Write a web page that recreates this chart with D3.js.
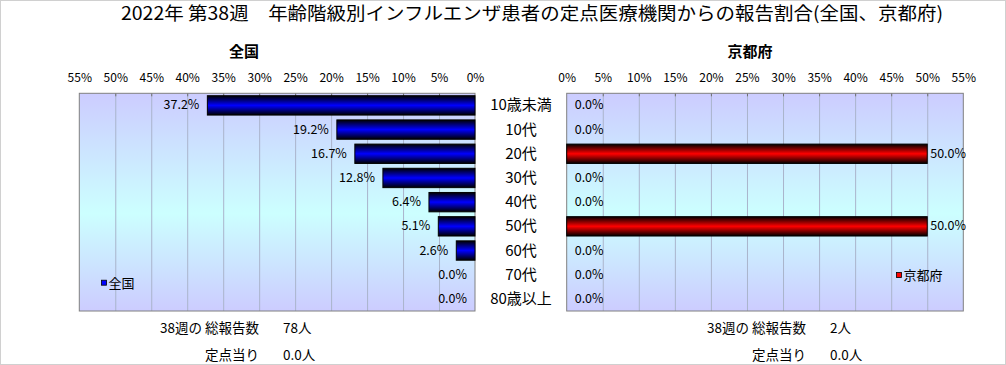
<!DOCTYPE html>
<html>
<head>
<meta charset="utf-8">
<script src="https://cdn.jsdelivr.net/npm/d3@7"></script>
<style>
  body { margin: 0; background: #fff; }
  svg { display: block; font-family: "Noto Sans CJK JP", "Noto Sans", sans-serif; }
</style>
</head>
<body>
<svg id="chart" width="1006" height="365"></svg>
<script>
// DATA
const ageGroups = ["10歳未満", "10代", "20代", "30代", "40代", "50代", "60代", "70代", "80歳以上"];
const zenkoku = [37.2, 19.2, 16.7, 12.8, 6.4, 5.1, 2.6, 0.0, 0.0];   // 全国 (%)
const kyoto = [0.0, 0.0, 50.0, 0.0, 0.0, 50.0, 0.0, 0.0, 0.0];       // 京都府 (%)
const tickValues = [0, 5, 10, 15, 20, 25, 30, 35, 40, 45, 50, 55];
const footZenkoku = [["38週の 総報告数", "78人"], ["定点当り", "0.0人"]];
const footKyoto = [["38週の 総報告数", "2人"], ["定点当り", "0.0人"]];

const svg = d3.select("#chart");
const plotTop = 93.3, plotBottom = 311;

// outer frame
svg.append("rect")
  .attr("x", 0.5).attr("y", 0.5).attr("width", 1005).attr("height", 364)
  .attr("fill", "none").attr("stroke", "#d0d0d0");

// gradients
const defs = svg.append("defs");
const bg = defs.append("linearGradient").attr("id", "bg").attr("x1", 0).attr("x2", 0).attr("y1", 0).attr("y2", 1);
bg.append("stop").attr("offset", "0%").attr("stop-color", "#ccccff");
bg.append("stop").attr("offset", "55%").attr("stop-color", "#ccffff");
bg.append("stop").attr("offset", "100%").attr("stop-color", "#ccccff");

function barGrad(id, mid) {
  const g = defs.append("linearGradient").attr("id", id).attr("x1", 0).attr("x2", 0).attr("y1", 0).attr("y2", 1);
  g.append("stop").attr("offset", "0%").attr("stop-color", "#000");
  g.append("stop").attr("offset", "50%").attr("stop-color", mid);
  g.append("stop").attr("offset", "100%").attr("stop-color", "#000");
}
barGrad("blueBar", "#0000ff");
barGrad("redBar", "#ff0000");

// SCALES
const y = d3.scaleBand().domain(ageGroups).range([plotTop, plotBottom]).paddingInner(0.2).paddingOuter(0.1);
const xL = d3.scaleLinear().domain([0, 55]).range([475, 79.3]);
const xR = d3.scaleLinear().domain([0, 55]).range([566.7, 963.3]);

// title
svg.append("text")
  .attr("x", 532).attr("y", 20)
  .attr("text-anchor", "middle")
  .attr("font-size", 18)
  .attr("textLength", 822).attr("lengthAdjust", "spacingAndGlyphs")
  .text("2022年 第38週　年齢階級別インフルエンザ患者の定点医療機関からの報告割合(全国、京都府)");

function panel(x, values, fillId, side, title, titleX, legendText, legendX, legendY, foot, footX) {
  const g = svg.append("g");
  const x0 = Math.min(x.range()[0], x.range()[1]);
  const w = Math.abs(x.range()[1] - x.range()[0]);

  g.append("rect")
    .attr("x", x0).attr("y", plotTop).attr("width", w).attr("height", plotBottom - plotTop)
    .attr("fill", "url(#bg)");

  // gridlines
  g.append("g")
    .attr("transform", `translate(0,${plotTop})`)
    .call(d3.axisBottom(x).tickValues(tickValues.slice(1, -1)).tickSize(plotBottom - plotTop).tickFormat(""))
    .call(a => a.select(".domain").remove())
    .call(a => a.selectAll("line").attr("stroke", "#aab4cc"));

  // small ticks on top
  g.append("g")
    .attr("transform", `translate(0,${plotTop})`)
    .call(d3.axisBottom(x).tickValues(tickValues.slice(1, -1)).tickSize(3).tickFormat(""))
    .call(a => a.select(".domain").remove())
    .call(a => a.selectAll("line").attr("stroke", "#707070"));

  // axis labels
  g.append("g")
    .attr("transform", `translate(0,${plotTop})`)
    .call(d3.axisTop(x).tickValues(tickValues).tickSize(0).tickPadding(11).tickFormat(d => d + "%"))
    .call(a => a.select(".domain").remove())
    .call(a => a.selectAll("text").attr("font-size", 12).attr("fill", "#000")
      .attr("font-family", "'Noto Sans CJK JP', sans-serif"));

  // plot border
  g.append("rect")
    .attr("x", x0).attr("y", plotTop).attr("width", w).attr("height", plotBottom - plotTop)
    .attr("fill", "none").attr("stroke", "#808080");

  // bars
  g.selectAll(".bar")
    .data(values)
    .join("rect")
    .attr("class", "bar")
    .attr("x", d => Math.min(x(0), x(d)))
    .attr("y", (d, i) => y(ageGroups[i]))
    .attr("width", d => Math.abs(x(d) - x(0)))
    .attr("height", y.bandwidth())
    .attr("fill", "url(#" + fillId + ")")
    .attr("stroke", d => d > 0 ? "#000" : "none");

  // data labels
  const right = x0 + w;
  g.selectAll(".lbl")
    .data(values)
    .join("text")
    .attr("class", "lbl")
    .attr("font-size", 12.5)
    .attr("y", (d, i) => y(ageGroups[i]) + y.bandwidth() / 2 + 4)
    .attr("text-anchor", side === "left" ? "end" : "start")
    .text(d => d.toFixed(1) + "%")
    .each(function (d) {
      if (side === "left") {
        d3.select(this).attr("x", x(d) - 8);
      } else {
        const tw = this.getComputedTextLength();
        d3.select(this).attr("x", Math.max(x(d) + 3, Math.min(x(d) + 8, right - tw)));
      }
    });

  // panel title
  svg.append("text")
    .attr("x", titleX).attr("y", 57)
    .attr("text-anchor", "middle")
    .attr("font-size", 15).attr("font-weight", "bold")
    .text(title);

  // legend
  svg.append("rect")
    .attr("x", legendX).attr("y", legendY - 2.5).attr("width", 5).attr("height", 5)
    .attr("fill", side === "left" ? "#0000ff" : "#ff0000").attr("stroke", "#000").attr("stroke-width", 0.8);
  svg.append("text")
    .attr("x", legendX + 7).attr("y", legendY + 5)
    .attr("font-size", 13)
    .text(legendText);

  // footer
  foot.forEach((f, i) => {
    svg.append("text")
      .attr("x", footX).attr("y", 333 + i * 27)
      .attr("text-anchor", "end").attr("font-size", 13.5)
      .text(f[0]);
    svg.append("text")
      .attr("x", footX + 24).attr("y", 333 + i * 27)
      .attr("font-size", 13.5)
      .text(f[1]);
  });
}

panel(xL, zenkoku, "blueBar", "left", "全国", 244, "全国", 101.5, 282.7, footZenkoku, 259);
panel(xR, kyoto, "redBar", "right", "京都府", 750, "京都府", 896.5, 275, footKyoto, 806);

// category labels
svg.selectAll(".cat")
  .data(ageGroups)
  .join("text")
  .attr("class", "cat")
  .attr("x", 521)
  .attr("y", d => y(d) + y.bandwidth() / 2 + 5)
  .attr("text-anchor", "middle")
  .attr("font-size", 15)
  .text(d => d);
</script>
</body>
</html>
